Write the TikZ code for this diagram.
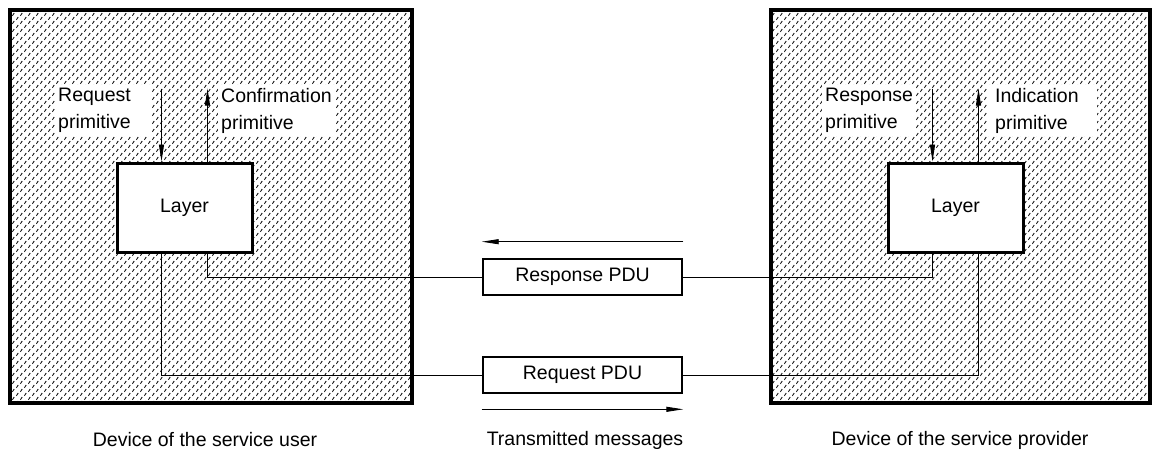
\documentclass[tikz,border=0pt]{standalone}
\usepackage{fontspec}
\setmainfont{Liberation Sans}
\usetikzlibrary{arrows.meta,calc,patterns,positioning}
\pgfdeclarepatternformonly{dashfill}{\pgfqpoint{-1pt}{-1pt}}{\pgfqpoint{9pt}{9pt}}{\pgfqpoint{8pt}{8pt}}{%
  \pgfsetlinewidth{0.8pt}
  \pgfpathmoveto{\pgfqpoint{0.4pt}{0.2pt}}\pgfpathlineto{\pgfqpoint{2.2pt}{3.0pt}}
  \pgfpathmoveto{\pgfqpoint{4.4pt}{4.2pt}}\pgfpathlineto{\pgfqpoint{6.2pt}{7.0pt}}
  \pgfusepath{stroke}}
\tikzset{device/.style={draw,line width=3.2pt,pattern=dashfill,inner sep=0pt},
  layerbox/.style={draw,fill=white,line width=3pt,minimum width=135pt,minimum height=89pt},
  pdubox/.style={draw,fill=white,line width=2.6pt,minimum width=199pt,minimum height=36pt},
  prim/.style={fill=white,align=left,inner sep=3pt,anchor=north west},
  link/.style={line width=0.9pt}}

\begin{document}
\begin{tikzpicture}[x=1pt,y=-1pt,font=\fontsize{19.5}{27}\selectfont,
          >={Triangle[length=17pt,width=5pt]}]
          \useasboundingbox(0,0)rectangle(1155,452);
          \node[device,minimum width=402pt,minimum height=393pt](userdev)at(211,206.5){};
          \node[device,minimum width=379pt,minimum height=393pt](provdev)at(960.5,206.5){};
          % primitives
          \node[prim,text width=91pt](reqlbl)at(55,85){Request\\primitive};
          \node[prim](conflbl)at(218,85){Confirmation\\primitive};
          \node[prim](resplbl)at(822,85){Response\\primitive};
          \node[prim,inner xsep=8pt,text width=94pt](indlbl)at(987,85){Indication\\primitive};
          \node[layerbox](userlayer)at(184.5,207.5){Layer};
          \node[layerbox](provlayer)at(955.5,207.5){Layer};
          \node[pdubox](resppdu)at(582.5,277){Response PDU};
          \node[pdubox](reqpdu)at(582.5,375){Request PDU};
          \coordinate(ua)at($(userlayer.north west)!1/3!(userlayer.north east)$);
          \coordinate(ub)at($(userlayer.south west)!2/3!(userlayer.south east)$);
          \coordinate(pa)at($(provlayer.north west)!1/3!(provlayer.north east)$);
          \coordinate(pb)at($(provlayer.south west)!2/3!(provlayer.south east)$);
          \draw[link,->](ua)++(0,-73)--(ua);
          \draw[link,->](ub|-userlayer.north)--++(0,-73);
          \draw[link,->](pa)++(0,-73)--(pa);
          \draw[link,->](pb|-provlayer.north)--++(0,-73);
          \draw[link](ub)|-(resppdu.west);
          \draw[link](ua|-userlayer.south)|-(reqpdu.west);
          \draw[link](resppdu.east)-|(pa|-provlayer.south);
          \draw[link](reqpdu.east)-|(pb);
          % direction of the messages
          \draw[link,->]($(resppdu.north east)+(0,-16)$)--($(resppdu.north west)+(0,-16)$);
          \draw[link,->]($(reqpdu.south west)+(0,15)$)--($(reqpdu.south east)+(0,15)$);
          \node(userlbl)at(205,440){Device of the service user};
          \node(msglbl)at(585,440){Transmitted messages};
          \node(provlbl)at(960,440){Device of the service provider};
        \end{tikzpicture}
\end{document}
